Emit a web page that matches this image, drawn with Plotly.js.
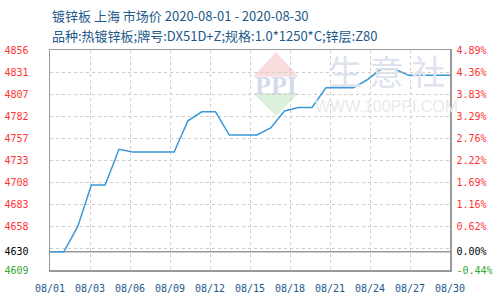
<!DOCTYPE html>
<html>
<head>
<meta charset="utf-8">
<script src="https://cdn.plot.ly/plotly-3.0.1.min.js"></script>
<style>html,body{margin:0;padding:0;background:#fff;}#chart{width:500px;height:300px;}</style>
</head>
<body>
<div id="chart"></div>
<script>
// ---- data ----
const dates = ['08/01','08/02','08/03','08/04','08/05','08/06','08/07','08/08','08/09','08/10',
               '08/11','08/12','08/13','08/14','08/15','08/16','08/17','08/18','08/19','08/20',
               '08/21','08/22','08/23','08/24','08/25','08/26','08/27','08/28','08/29','08/30'];
const prices = [4630,4630,4658,4705,4705,4745,4742,4742,4742,4742,
                4777,4787,4787,4761,4761,4761,4769,4788,4792,4792,
                4814,4814,4814,4823,4835,4835,4828,4828,4828,4828];
const xTickLabels = ['08/01','08/03','08/06','08/09','08/12','08/15','08/18','08/21','08/24','08/27','08/30'];
const basePrice = 4630;
const yMin = 4609.6, yMax = 4856.4;
const leftTickLabels  = ['4609','4630','4658','4683','4708','4733','4757','4782','4807','4831','4856'];
const rightTickLabels = ['-0.44%','0.00%','0.62%','1.16%','1.69%','2.22%','2.76%','3.29%','3.83%','4.36%','4.89%'];
const titleLine1 = '镀锌板 上海 市场价 2020-08-01 - 2020-08-30';
const titleLine2 = '品种:热镀锌板;牌号:DX51D+Z;规格:1.0*1250*C;锌层:Z80';

// ---- derived positions ----
const xs = dates.map((d, i) => i);
const nInt = xTickLabels.length - 1;
const xTickVals = xTickLabels.map((t, k) => k * (dates.length - 1) / nInt);
const gridStep = (yMax - yMin) / 10;
const gridVals = leftTickLabels.map((t, k) => yMin + k * gridStep);
const labelVals = gridVals.map((v, k) => k === 1 ? basePrice : v);
function colorize(arr) {
  return arr.map((t, k) => {
    const c = k === 0 ? '#33aa33' : (k === 1 ? '#000000' : '#ff3333');
    return '<span style="color:' + c + '">' + t + '</span>';
  });
}

const tickFont = {family: 'DejaVu Sans Mono, monospace', size: 10};

const trace = {
  x: xs, y: prices, type: 'scatter', mode: 'lines',
  line: {color: '#3a98d8', width: 1.5},
  hoverinfo: 'skip', showlegend: false
};
const dummy = {x: [0], y: [basePrice], yaxis: 'y2', type: 'scatter', mode: 'none', showlegend: false, hoverinfo: 'skip'};
const dummy3 = {x: [0], y: [basePrice], yaxis: 'y3', type: 'scatter', mode: 'none', showlegend: false, hoverinfo: 'skip'};

const layout = {
  width: 500, height: 300,
  margin: {l: 50, r: 50, t: 50, b: 30, pad: 0},
  paper_bgcolor: '#ffffff', plot_bgcolor: '#ffffff',
  xaxis: {
    range: [0, dates.length - 1], tickmode: 'array', tickvals: xTickVals, ticktext: xTickLabels,
    showgrid: true, gridcolor: '#cccccc', griddash: '3px,3px', gridwidth: 1,
    zeroline: false, showline: true, linecolor: '#999999', linewidth: 1.5, mirror: true,
    ticks: 'outside', ticklen: 8, tickcolor: 'rgba(0,0,0,0)',
    tickfont: Object.assign({color: '#1e5a8a'}, tickFont), fixedrange: true
  },
  yaxis: {
    range: [yMin, yMax], tickmode: 'array', tickvals: labelVals, ticktext: colorize(leftTickLabels),
    showgrid: false, zeroline: false, showline: true, linecolor: '#999999', linewidth: 1.5,
    ticks: 'outside', ticklen: 18, tickcolor: 'rgba(0,0,0,0)',
    tickfont: Object.assign({color: '#ff3333'}, tickFont), fixedrange: true
  },
  yaxis2: {
    range: [yMin, yMax], overlaying: 'y', side: 'right', tickmode: 'array', tickvals: labelVals,
    ticktext: colorize(rightTickLabels), showgrid: false, zeroline: false,
    showline: true, linecolor: '#999999', linewidth: 1.5,
    ticks: 'outside', ticklen: 3, tickcolor: 'rgba(0,0,0,0)',
    tickfont: Object.assign({color: '#ff3333'}, tickFont), fixedrange: true
  },
  yaxis3: {
    range: [yMin, yMax], overlaying: 'y', tickmode: 'array', tickvals: gridVals,
    showticklabels: false, showgrid: true, gridcolor: '#cccccc', griddash: '3px,3px', gridwidth: 1,
    zeroline: false, showline: false, fixedrange: true
  },
  shapes: [
    {type: 'line', xref: 'paper', x0: 0, x1: 1, yref: 'y', y0: basePrice, y1: basePrice,
     line: {color: '#999999', width: 1.5}, layer: 'below'},
    {type: 'path', xref: 'paper', yref: 'paper', layer: 'below',
     path: 'M 0.565 0.99 L 0.5075 0.88 L 0.6225 0.88 Z', fillcolor: '#f9dcdc', line: {width: 0}},
    {type: 'path', xref: 'paper', yref: 'paper', layer: 'below',
     path: 'M 0.5075 0.805 L 0.6225 0.805 L 0.565 0.70 Z', fillcolor: '#dcf1dc', line: {width: 0}}
  ],
  annotations: [
    {text: titleLine1, xref: 'paper', yref: 'paper', x: 0, y: 1.159, xanchor: 'left', yanchor: 'middle',
     showarrow: false, font: {family: 'Noto Sans CJK SC, sans-serif', size: 13, color: '#1e5a8a'}},
    {text: titleLine2, xref: 'paper', yref: 'paper', x: 0, y: 1.068, xanchor: 'left', yanchor: 'middle',
     showarrow: false, font: {family: 'Noto Sans CJK SC, sans-serif', size: 13, color: '#1e5a8a'}},
    {text: '<b>PPI</b>', xref: 'paper', yref: 'paper', x: 0.565, y: 0.84, xanchor: 'center', yanchor: 'middle',
     showarrow: false, font: {family: 'Liberation Serif, serif', size: 26, color: '#d3daea'}},
    {text: '生 意 社', xref: 'paper', yref: 'paper', x: 0.84, y: 0.905, xanchor: 'center', yanchor: 'middle',
     showarrow: false, font: {family: 'Noto Sans CJK SC, sans-serif', size: 34, color: '#dde2ee'}},
    {text: 'WWW.100PPI.COM', xref: 'paper', yref: 'paper', x: 0.84, y: 0.745, xanchor: 'center', yanchor: 'middle',
     showarrow: false, font: {family: 'Liberation Sans, sans-serif', size: 16, color: '#eaeaea'}}
  ]
};

Plotly.newPlot('chart', [dummy3, trace, dummy], layout, {staticPlot: true, displayModeBar: false});
</script>
</body>
</html>
